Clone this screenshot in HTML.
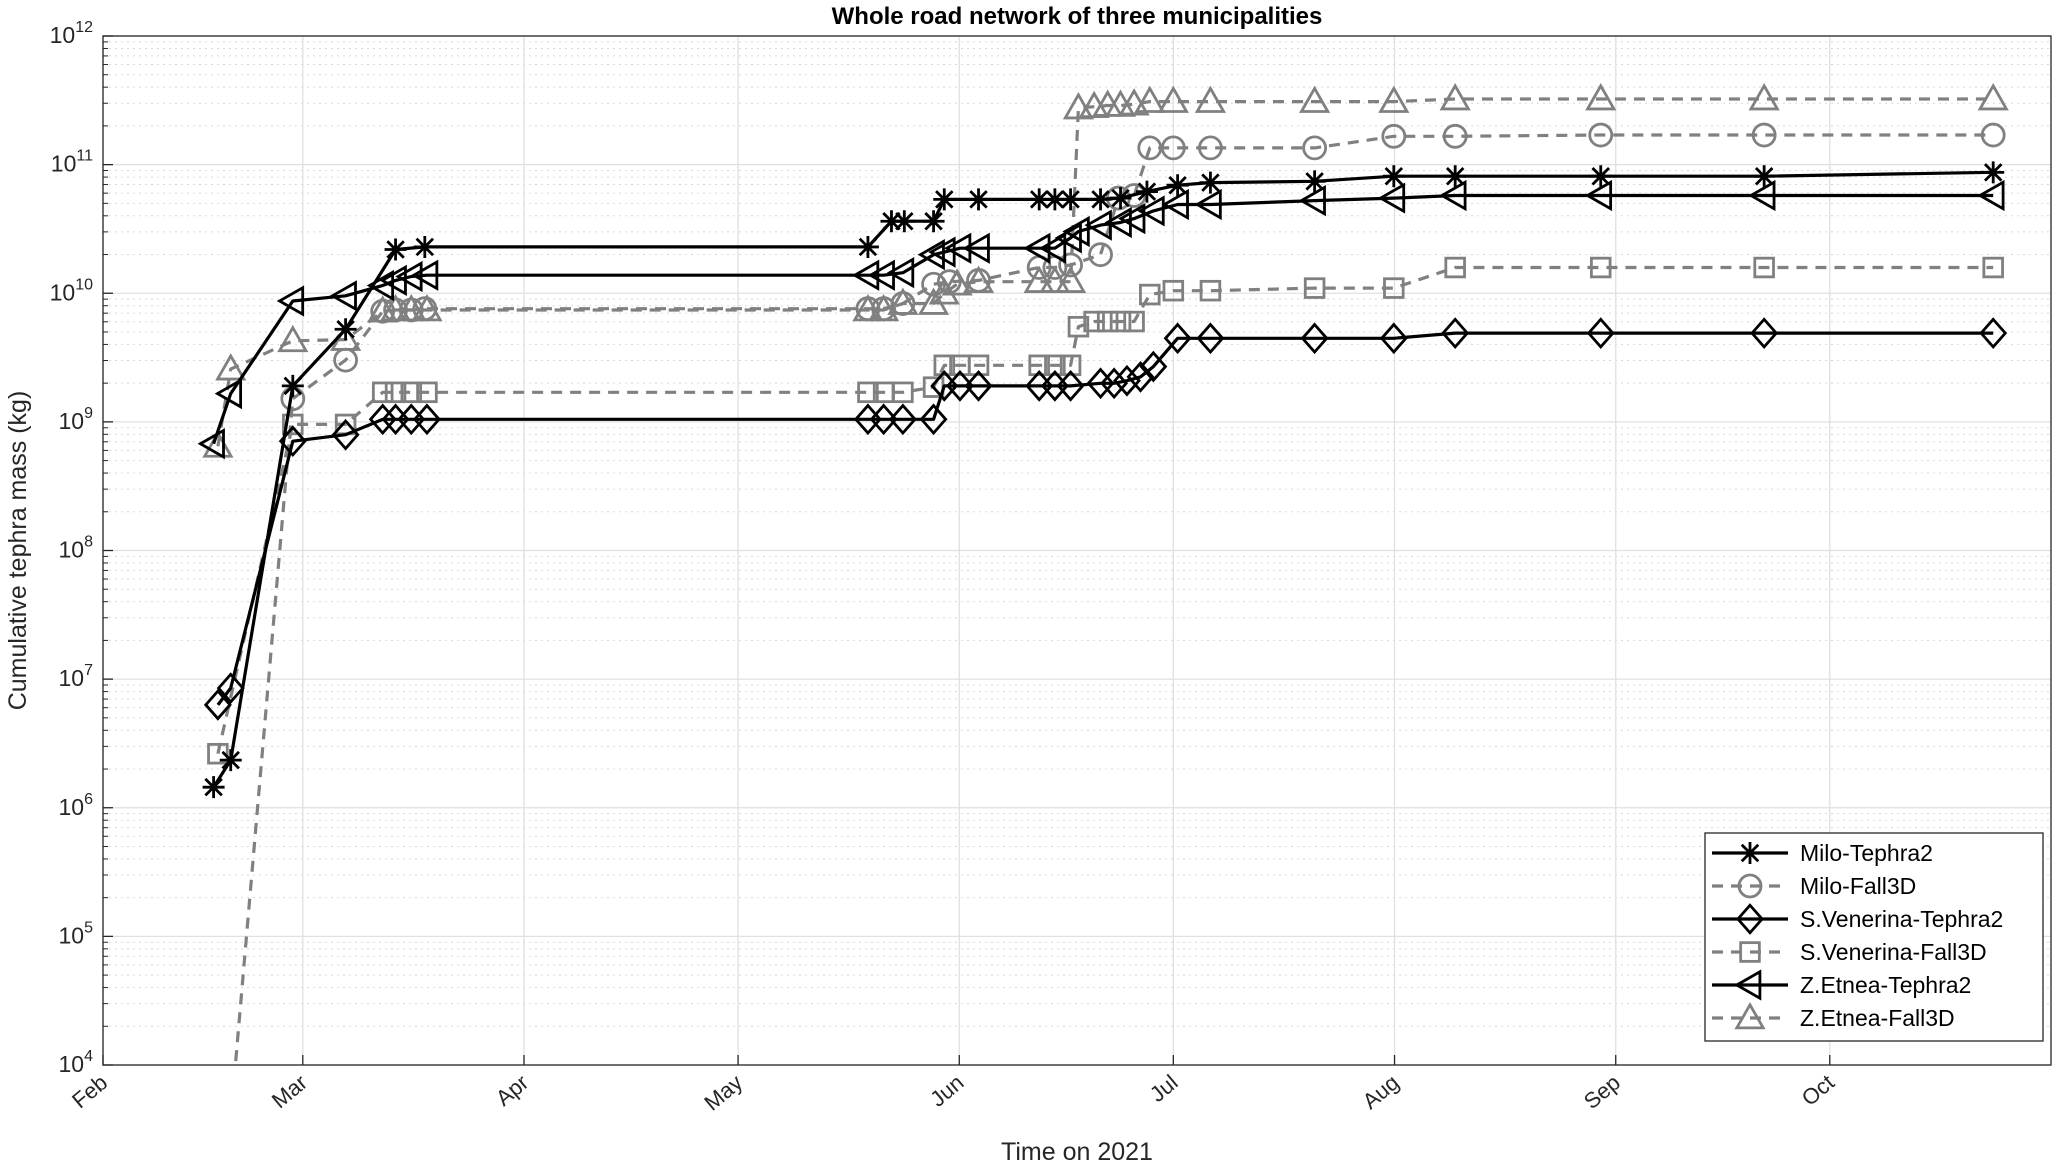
<!DOCTYPE html>
<html><head><meta charset="utf-8"><style>
html,body{margin:0;padding:0;background:#fff;}
svg{display:block;font-family:"Liberation Sans",Arial,sans-serif;}
</style></head><body>
<svg id="chart" width="2067" height="1168" viewBox="0 0 2067 1168" xmlns="http://www.w3.org/2000/svg"></svg>
<script>
// ---- data (x: days since Feb 1 2021, y: log10 of cumulative mass in kg) ----
const monthLabels = ["Feb","Mar","Apr","May","Jun","Jul","Aug","Sep","Oct"];
const monthDays = [0,28,59,89,120,150,181,212,242];
const yTickExp = [4,5,6,7,8,9,10,11,12];

const miloT2Days = [15.5,17.9,26.6,34.0,41.0,45.1,107.2,110.5,112.3,116.4,117.9,122.7,131.2,133.4,135.6,139.8,142.6,146.3,150.6,155.2,169.8,180.9,189.5,209.9,232.8,264.9];
const miloT2Log  = [6.16,6.37,9.28,9.72,10.34,10.36,10.36,10.56,10.56,10.56,10.73,10.73,10.73,10.73,10.73,10.73,10.74,10.79,10.84,10.86,10.87,10.91,10.91,10.91,10.91,10.94];

const miloF3Days = [17.0,26.6,34.0,39.2,41.0,43.2,45.1,107.2,109.4,112.1,116.4,118.6,122.7,131.2,133.4,135.6,139.8,142.3,144.5,146.7,150.0,155.2,169.8,180.9,189.5,209.9,232.8,264.9];
const miloF3Log  = [3.0,9.18,9.48,9.86,9.87,9.87,9.88,9.88,9.88,9.92,10.07,10.09,10.1,10.2,10.2,10.22,10.3,10.74,10.76,11.13,11.13,11.13,11.13,11.22,11.22,11.23,11.23,11.23];

const svT2Days = [16.1,17.9,26.6,34.0,39.2,41.0,43.2,45.4,107.2,109.4,112.1,116.4,117.9,120.1,122.7,131.2,133.4,135.6,139.8,141.7,143.5,145.4,147.2,150.6,155.2,169.8,180.9,189.5,209.9,232.8,264.9];
const svT2Log  = [6.8,6.93,8.85,8.9,9.02,9.02,9.02,9.02,9.02,9.02,9.02,9.02,9.28,9.28,9.28,9.28,9.28,9.28,9.3,9.3,9.32,9.35,9.43,9.65,9.65,9.65,9.65,9.69,9.69,9.69,9.69];

const svF3Days = [16.1,26.6,34.0,39.2,41.0,43.2,45.4,107.2,109.4,112.1,116.4,117.9,120.1,122.7,131.2,133.4,135.6,136.7,138.9,140.8,142.6,144.5,146.7,150.0,155.2,169.8,180.9,189.5,209.9,232.8,264.9];
const svF3Log  = [6.42,8.98,8.98,9.23,9.23,9.23,9.23,9.23,9.23,9.23,9.27,9.44,9.44,9.44,9.44,9.44,9.44,9.74,9.78,9.78,9.78,9.78,9.99,10.02,10.02,10.04,10.04,10.2,10.2,10.2,10.2];

const zeT2Days = [15.5,17.9,26.6,34.0,39.2,41.0,43.2,45.4,107.2,109.4,112.1,116.4,117.9,120.1,122.7,131.2,133.4,135.6,136.7,139.8,142.6,144.5,147.2,150.6,155.2,169.8,180.9,189.5,209.9,232.8,264.9];
const zeT2Log  = [8.83,9.22,9.94,9.98,10.06,10.1,10.13,10.14,10.14,10.14,10.16,10.3,10.32,10.35,10.35,10.35,10.35,10.43,10.48,10.53,10.55,10.58,10.64,10.69,10.69,10.72,10.74,10.76,10.76,10.76,10.76];

const zeF3Days = [16.1,17.9,26.6,34.0,39.2,41.0,43.2,45.4,107.2,109.4,112.1,116.4,117.9,119.7,122.7,131.2,133.4,135.6,136.7,138.9,140.8,142.6,144.5,146.7,150.0,155.2,169.8,180.9,189.5,209.9,232.8,264.9];
const zeF3Log  = [8.81,9.41,9.63,9.64,9.86,9.87,9.87,9.87,9.87,9.87,9.92,9.92,10.0,10.07,10.09,10.09,10.09,10.09,11.44,11.45,11.46,11.46,11.47,11.49,11.49,11.49,11.49,11.49,11.51,11.51,11.51,11.51];

const seriesNames = ["Milo-Tephra2","Milo-Fall3D","S.Venerina-Tephra2","S.Venerina-Fall3D","Z.Etnea-Tephra2","Z.Etnea-Fall3D"];

// ---- layout ----
const L=103,R=2051,T=36,B=1065;
const xMin=0,xMax=273,yMin=4,yMax=12;
function xs(d){return L+(d-xMin)/(xMax-xMin)*(R-L);}
function ys(e){return B-(e-yMin)/(yMax-yMin)*(B-T);}
const NS="http://www.w3.org/2000/svg";
const svg=document.getElementById('chart');
function mk(tag,attrs,parent){const e=document.createElementNS(NS,tag);for(const k in attrs)e.setAttribute(k,attrs[k]);(parent||svg).appendChild(e);return e;}

// defs clip
const defs=mk('defs',{});
const cp=mk('clipPath',{id:'plotclip'},defs);
mk('rect',{x:L,y:T,width:R-L,height:B-T},cp);

// grid
const grid=mk('g',{});


for(let e=yMin;e<yMax;e++){for(let k=2;k<=9;k++){const y=ys(e+Math.log10(k));
  const ln=mk('line',{x1:L,x2:R,y1:y,y2:y,stroke:'#d8d8d8','stroke-width':1,'stroke-dasharray':'2,4'},grid);
  
  }}
yTickExp.forEach(e=>{const y=ys(e);
  const ln=mk('line',{x1:L,x2:R,y1:y,y2:y,stroke:'#e0e0e0','stroke-width':1.3},grid);
  
  });
monthDays.forEach(d=>{const x=xs(d);
  const ln=mk('line',{x1:x,x2:x,y1:T,y2:B,stroke:'#e0e0e0','stroke-width':1.3},grid);
  
  });

// markers
function marker(g,type,x,y,color){
  const s=11,sw=2.8;
  const a={fill:'none',stroke:color,'stroke-width':sw};
  let m;
  if(type==='star'){m=mk('path',Object.assign({d:`M${x-s} ${y}H${x+s}M${x} ${y-s}V${y+s}M${x-s*0.75} ${y-s*0.75}L${x+s*0.75} ${y+s*0.75}M${x-s*0.75} ${y+s*0.75}L${x+s*0.75} ${y-s*0.75}`},a),g);}
  else if(type==='circle'){m=mk('circle',Object.assign({cx:x,cy:y,r:s},a),g);}
  else if(type==='diamond'){m=mk('path',Object.assign({d:`M${x} ${y-s*1.25}L${x+s*1.1} ${y}L${x} ${y+s*1.25}L${x-s*1.1} ${y}Z`},a),g);}
  else if(type==='square'){m=mk('rect',Object.assign({x:x-s*0.85,y:y-s*0.85,width:s*1.7,height:s*1.7},a),g);}
  else if(type==='ltri'){m=mk('path',Object.assign({d:`M${x-s*1.2} ${y}L${x+s*0.9} ${y-s*1.2}L${x+s*0.9} ${y+s*1.2}Z`},a),g);}
  else {m=mk('path',Object.assign({d:`M${x} ${y-s*1.2}L${x+s*1.2} ${y+s*0.9}L${x-s*1.2} ${y+s*0.9}Z`},a),g);}
  
  
}
const styles=[
 {days:miloT2Days,vals:miloT2Log,color:'#000',dash:null,mark:'star',name:'series-milo-tephra2'},
 {days:miloF3Days,vals:miloF3Log,color:'#808080',dash:'11,8',mark:'circle',name:'series-milo-fall3d'},
 {days:svT2Days,vals:svT2Log,color:'#000',dash:null,mark:'diamond',name:'series-svenerina-tephra2'},
 {days:svF3Days,vals:svF3Log,color:'#808080',dash:'11,8',mark:'square',name:'series-svenerina-fall3d'},
 {days:zeT2Days,vals:zeT2Log,color:'#000',dash:null,mark:'ltri',name:'series-zetnea-tephra2'},
 {days:zeF3Days,vals:zeF3Log,color:'#808080',dash:'11,8',mark:'utri',name:'series-zetnea-fall3d'}
];
const order=[1,3,5,0,2,4];
order.forEach(i=>{const st=styles[i];
  const g=mk('g',{'clip-path':'url(#plotclip)'});
  
  
  const pts=st.days.map((d,j)=>xs(d).toFixed(1)+','+ys(st.vals[j]).toFixed(1)).join(' ');
  const pl=mk('polyline',{points:pts,fill:'none',stroke:st.color,'stroke-width':3.2,'stroke-linejoin':'round'},g);
  if(st.dash)pl.setAttribute('stroke-dasharray',st.dash);
  
  
  st.days.forEach((d,j)=>marker(g,st.mark,xs(d),ys(st.vals[j]),st.color));
});

// axes box
const ax=mk('rect',{x:L,y:T,width:R-L,height:B-T,fill:'none',stroke:'#262626','stroke-width':1.3});



// y ticks
yTickExp.forEach(e=>{const y=ys(e);
  const tk=mk('line',{x1:L,x2:L+10,y1:y,y2:y,stroke:'#262626','stroke-width':1.3});
  
  
  const t=mk('text',{x:L-10,y:y+7,'text-anchor':'end','font-size':23,fill:'#262626'});
  
  
  t.textContent='10';
  const sup=mk('tspan',{dy:-11,'font-size':16},t);sup.textContent=String(e);
});
for(let e=yMin;e<yMax;e++){for(let k=2;k<=9;k++){const y=ys(e+Math.log10(k));
  const tk=mk('line',{x1:L,x2:L+5,y1:y,y2:y,stroke:'#262626','stroke-width':1});
  
  }}

// x ticks
monthDays.forEach((d,i)=>{const x=xs(d);
  const tk=mk('line',{x1:x,x2:x,y1:B,y2:B-10,stroke:'#262626','stroke-width':1.3});
  
  
  const t=mk('text',{x:x+6,y:B+20,'text-anchor':'end','font-size':22,fill:'#262626',transform:`rotate(-40 ${x+6} ${B+20})`});
  
  
  t.textContent=monthLabels[i];
});

// titles
const title=mk('text',{x:(L+R)/2,y:24,'text-anchor':'middle','font-size':24,'font-weight':'bold',fill:'#000'});


title.textContent='Whole road network of three municipalities';
const xl=mk('text',{x:(L+R)/2,y:1160,'text-anchor':'middle','font-size':25,fill:'#262626'});


xl.textContent='Time on 2021';
const yl=mk('text',{x:26,y:(T+B)/2,'text-anchor':'middle','font-size':25,fill:'#262626',transform:`rotate(-90 26 ${(T+B)/2})`});


yl.textContent='Cumulative tephra mass (kg)';

// legend
const lg=mk('g',{});


mk('rect',{x:1705,y:833,width:338,height:208,fill:'#fff',stroke:'#262626','stroke-width':1.3},lg);
seriesNames.forEach((n,i)=>{const st=styles[i];const y=853+i*33;
  const eg=mk('g',{},lg);
  
  
  const ln=mk('line',{x1:1712,x2:1788,y1:y,y2:y,stroke:st.color,'stroke-width':3.2},eg);
  if(st.dash)ln.setAttribute('stroke-dasharray',st.dash);
  marker(eg,st.mark,1750,y,st.color);
  const t=mk('text',{x:1800,y:y+8,'font-size':23,fill:'#000'},eg);
  
  
  t.textContent=n;
});
</script>
</body></html>
